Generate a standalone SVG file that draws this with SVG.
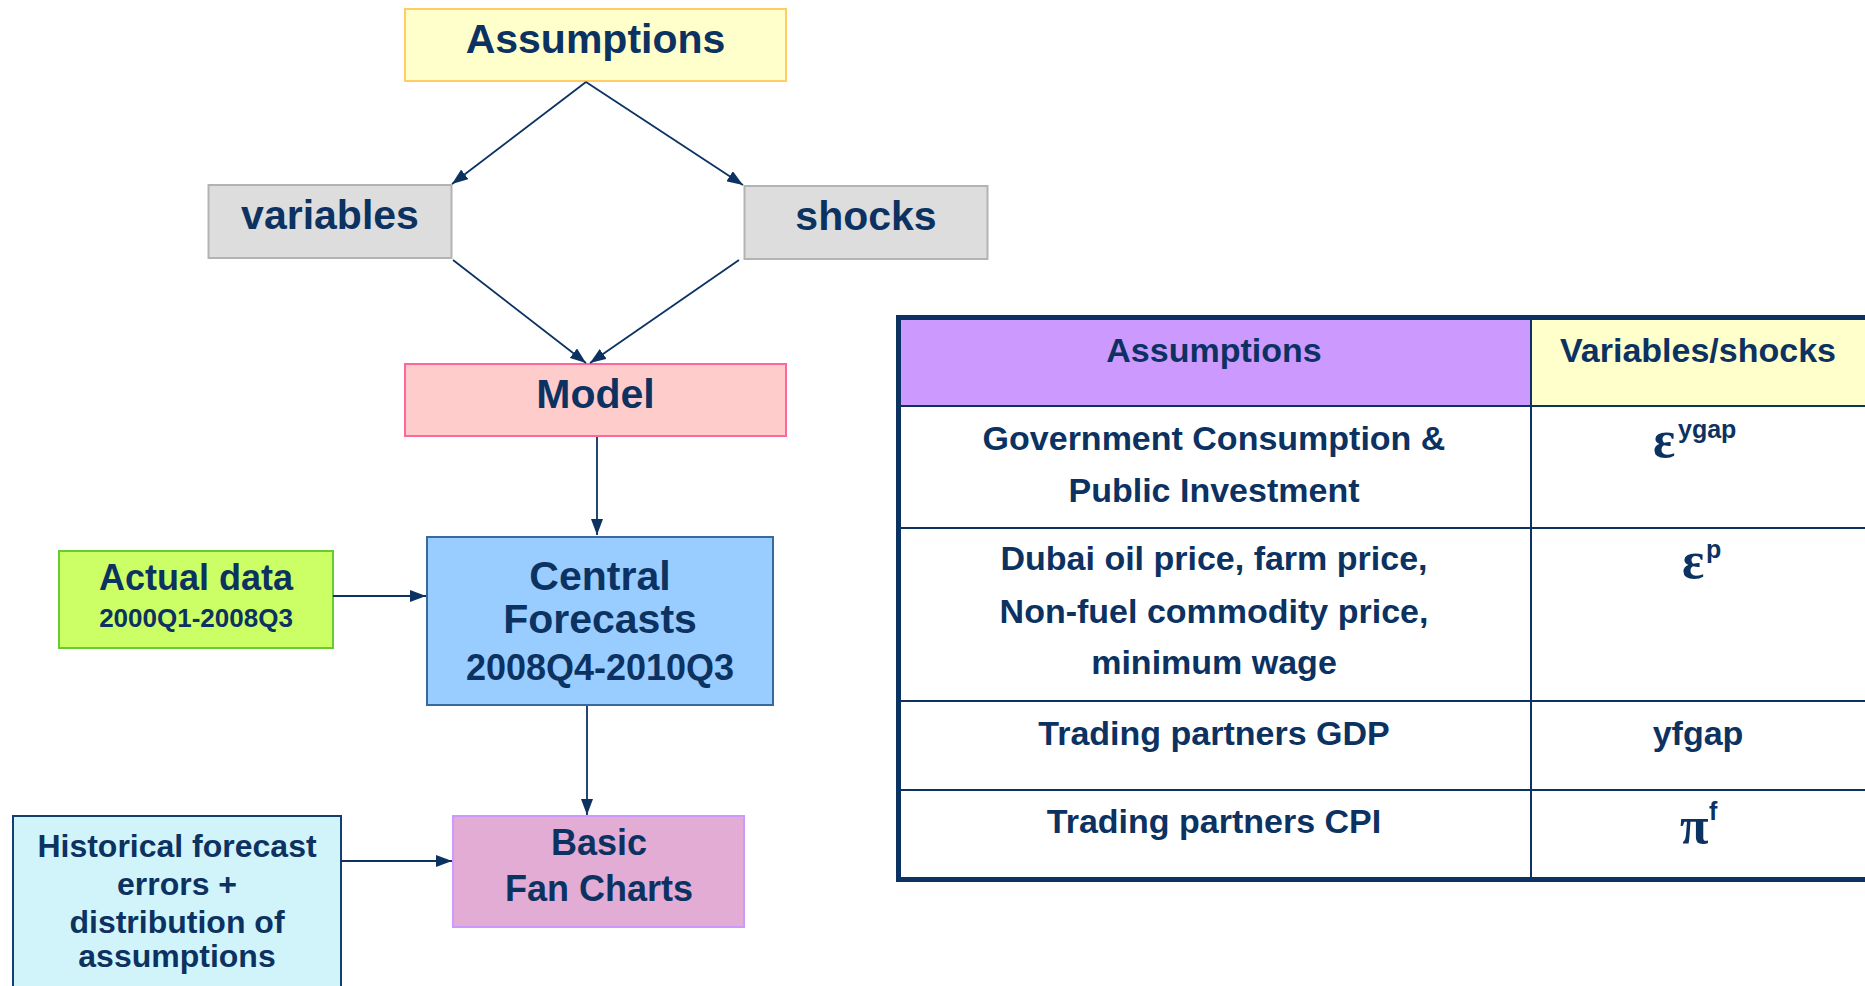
<svg xmlns="http://www.w3.org/2000/svg" width="1865" height="986" viewBox="0 0 1865 986">
  <style>
    .lbl { font-family: "Liberation Sans", Arial, sans-serif; font-weight: bold; fill: #0c3262; text-anchor: middle; }
    .sym { font-family: "Liberation Serif", "Times New Roman", serif; font-weight: bold; fill: #0c3262; }
    .sup { font-family: "Liberation Sans", Arial, sans-serif; font-weight: bold; fill: #0c3262; }
    .conn { stroke: #0c3262; stroke-width: 1.8; fill: none; marker-end: url(#arrow); }
    .grid { stroke: #0c3262; stroke-width: 2; fill: none; }
  </style>
  <defs>
    <marker id="arrow" markerUnits="userSpaceOnUse" markerWidth="16" markerHeight="12" refX="16" refY="6" orient="auto">
      <path d="M0,0 L16,6 L0,12 z" fill="#0c3262"/>
    </marker>
  </defs>
  <rect width="1865" height="986" fill="#ffffff"/>

  <!-- flow nodes -->
  <g id="node-assumptions">
    <rect x="405" y="9" width="381" height="72" fill="#ffffcc" stroke="#ffcc66" stroke-width="2"/>
    <text class="lbl" x="595.5" y="53" font-size="41">Assumptions</text>
  </g>
  <g id="node-variables">
    <rect x="208.5" y="185" width="243" height="73" fill="#dddddd" stroke="#b3b3b3" stroke-width="2"/>
    <text class="lbl" x="330" y="229" font-size="41">variables</text>
  </g>
  <g id="node-shocks">
    <rect x="744.5" y="186" width="243" height="73" fill="#dddddd" stroke="#b3b3b3" stroke-width="2"/>
    <text class="lbl" x="866" y="230" font-size="41">shocks</text>
  </g>
  <g id="node-model">
    <rect x="405" y="364" width="381" height="72" fill="#ffcccc" stroke="#ff6699" stroke-width="2"/>
    <text class="lbl" x="595.5" y="408" font-size="41">Model</text>
  </g>
  <g id="node-central">
    <rect x="427" y="537" width="346" height="168" fill="#99ccff" stroke="#3a6a9c" stroke-width="2"/>
    <text class="lbl" x="600" y="590" font-size="41">Central</text>
    <text class="lbl" x="600" y="633" font-size="41">Forecasts</text>
    <text class="lbl" x="600" y="680" font-size="36">2008Q4-2010Q3</text>
  </g>
  <g id="node-actual">
    <rect x="59" y="551" width="274" height="97" fill="#ccff66" stroke="#66cc33" stroke-width="2"/>
    <text class="lbl" x="196" y="590" font-size="36">Actual data</text>
    <text class="lbl" x="196" y="627" font-size="26">2000Q1-2008Q3</text>
  </g>
  <g id="node-fancharts">
    <rect x="453" y="816" width="291" height="111" fill="#e2acd4" stroke="#cc99ff" stroke-width="2"/>
    <text class="lbl" x="599" y="855" font-size="36">Basic</text>
    <text class="lbl" x="599" y="901" font-size="36">Fan Charts</text>
  </g>
  <g id="node-historical">
    <rect x="13" y="816" width="328" height="180" fill="#d0f4fa" stroke="#123f6e" stroke-width="2"/>
    <text class="lbl" x="177" y="857" font-size="32">Historical forecast</text>
    <text class="lbl" x="177" y="895" font-size="32">errors +</text>
    <text class="lbl" x="177" y="933" font-size="32">distribution of</text>
    <text class="lbl" x="177" y="967" font-size="32">assumptions</text>
  </g>

  <!-- connectors -->
  <g id="connectors">
    <path class="conn" d="M586,82 L452,184"/>
    <path class="conn" d="M586,82 L743,185"/>
    <path class="conn" d="M453,260 L586,363"/>
    <path class="conn" d="M739,260 L590,363"/>
    <path class="conn" d="M597,437 L597,535"/>
    <path class="conn" d="M333,596 L426,596"/>
    <path class="conn" d="M587,706 L587,815"/>
    <path class="conn" d="M341,861 L452,861"/>
  </g>

  <!-- assumptions / shocks table -->
  <g id="table">
    <rect x="898" y="318" width="633" height="88" fill="#cc99ff"/>
    <rect x="1531" y="318" width="340" height="88" fill="#ffffcc"/>
    <path class="grid" d="M898,406 H1870 M898,528 H1870 M898,701 H1870 M898,790 H1870 M1531,318 V879"/>
    <rect x="898.5" y="317.5" width="985" height="562" fill="none" stroke="#0c3262" stroke-width="5"/>

    <text class="lbl" x="1214" y="362" font-size="34">Assumptions</text>
    <text class="lbl" x="1698" y="362" font-size="34">Variables/shocks</text>

    <text class="lbl" x="1214" y="450" font-size="34">Government Consumption &amp;</text>
    <text class="lbl" x="1214" y="502" font-size="34">Public Investment</text>
    <text class="sym" x="1653" y="457" font-size="52">ε</text>
    <text class="sup" x="1678" y="438" font-size="25">ygap</text>

    <text class="lbl" x="1214" y="570" font-size="34">Dubai oil price, farm price,</text>
    <text class="lbl" x="1214" y="623" font-size="34">Non-fuel commodity price,</text>
    <text class="lbl" x="1214" y="674" font-size="34">minimum wage</text>
    <text class="sym" x="1682" y="578" font-size="52">ε</text>
    <text class="sup" x="1706" y="558" font-size="25">p</text>

    <text class="lbl" x="1214" y="745" font-size="34">Trading partners GDP</text>
    <text class="lbl" x="1698" y="745" font-size="34">yfgap</text>

    <text class="lbl" x="1214" y="833" font-size="34">Trading partners CPI</text>
    <text class="sym" x="1680" y="843" font-size="52">π</text>
    <text class="sup" x="1709" y="820" font-size="25">f</text>
  </g>
</svg>
